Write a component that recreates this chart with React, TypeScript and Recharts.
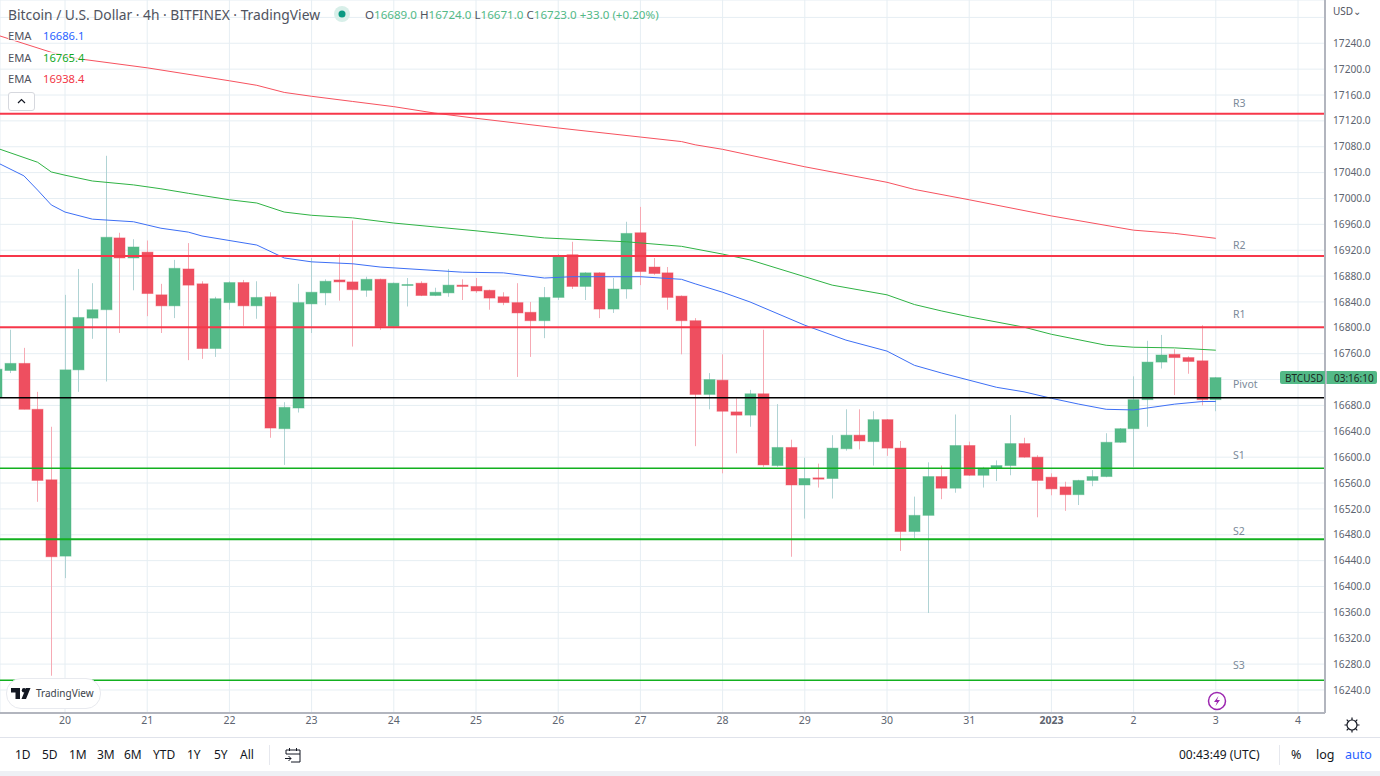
import { Bar, CartesianGrid, ComposedChart, Line, ReferenceLine, XAxis, YAxis } from "recharts";

const FONT = "'Noto Sans', sans-serif";
const UP = "#53b987";
const DOWN = "#ee4f60";

// first candle in the list sits five 4h bars before Dec 20 00:00
const firstIndex = -5;
const opens = [
  16693, 16734, 16745, 16674, 16565, 16447, 16735, 16815, 16828, 16939, 16908, 16917, 16851, 16834, 16891,
  16868, 16768, 16839, 16870, 16834, 16848, 16644, 16676, 16837, 16854, 16874, 16871, 16858, 16875, 16802,
  16866, 16869, 16850, 16854, 16866, 16864, 16858, 16848, 16839, 16824, 16811, 16847, 16913, 16864, 16885,
  16829, 16860, 16947, 16894, 16885, 16849, 16811, 16697, 16719, 16670, 16665, 16698, 16587, 16615, 16557,
  16568, 16567, 16613, 16634, 16624, 16658, 16614, 16485, 16510, 16570, 16552, 16618, 16572, 16583, 16587,
  16621, 16600, 16569, 16554, 16542, 16564, 16570, 16623, 16644, 16689, 16747, 16759, 16754, 16749, 16689,
];
const highs = [
  16763, 16797, 16769, 16701, 16647, 16851, 16891, 16869, 17066, 16947, 16937, 16935, 16868, 16905, 16931,
  16872, 16848, 16872, 16874, 16872, 16855, 16685, 16868, 16908, 16875, 16914, 16966, 16879, 16876, 16870,
  16877, 16872, 16862, 16891, 16875, 16877, 16859, 16855, 16869, 16840, 16863, 16914, 16933, 16886, 16886,
  16877, 16964, 16987, 16908, 16894, 16850, 16815, 16730, 16759, 16691, 16704, 16797, 16682, 16627, 16599,
  16590, 16634, 16674, 16674, 16671, 16659, 16625, 16539, 16592, 16587, 16666, 16624, 16585, 16595, 16665,
  16630, 16603, 16575, 16562, 16565, 16580, 16637, 16645, 16725, 16780, 16789, 16767, 16756, 16804, 16724,
];
const lows = [
  16688, 16730, 16674, 16531, 16262, 16413, 16701, 16783, 16717, 16792, 16858, 16818, 16792, 16815, 16750,
  16752, 16755, 16828, 16803, 16814, 16630, 16588, 16669, 16792, 16835, 16842, 16771, 16848, 16797, 16800,
  16833, 16849, 16849, 16848, 16843, 16854, 16828, 16835, 16724, 16755, 16784, 16843, 16860, 16843, 16815,
  16823, 16845, 16866, 16882, 16828, 16759, 16617, 16674, 16575, 16606, 16647, 16585, 16585, 16446, 16505,
  16553, 16536, 16610, 16612, 16587, 16602, 16455, 16475, 16359, 16535, 16545, 16571, 16553, 16563, 16572,
  16599, 16507, 16541, 16517, 16526, 16555, 16569, 16622, 16585, 16647, 16737, 16696, 16729, 16680, 16671,
];
const closes = [
  16736, 16745, 16674, 16564, 16446, 16735, 16816, 16828, 16940, 16908, 16925, 16853, 16834, 16892, 16866,
  16768, 16845, 16870, 16834, 16847, 16645, 16677, 16839, 16855, 16872, 16871, 16859, 16875, 16802, 16869,
  16867, 16850, 16855, 16866, 16864, 16857, 16846, 16839, 16823, 16811, 16847, 16911, 16864, 16885, 16829,
  16860, 16946, 16887, 16884, 16847, 16811, 16697, 16720, 16671, 16665, 16698, 16588, 16615, 16557, 16567,
  16566, 16614, 16634, 16625, 16658, 16614, 16485, 16510, 16570, 16552, 16618, 16572, 16583, 16587, 16621,
  16600, 16564, 16551, 16542, 16564, 16570, 16623, 16644, 16689, 16747, 16758, 16754, 16748, 16689, 16723,
];

// EMA readings as [bar index, price]
const emaBlue = [
  [-5, 17056], [-3, 17035], [-2, 17013], [-1, 16990], [0, 16979], [2, 16968], [5, 16964], [6, 16959], [7, 16954],
  [9, 16948], [10, 16942], [14, 16928], [16, 16908], [18, 16902], [21, 16899], [23, 16894], [29, 16886], [32, 16885],
  [35, 16877], [37, 16879], [42, 16879], [45, 16875], [46, 16868], [48, 16855], [50, 16840], [54, 16804], [57, 16781],
  [60, 16764], [62, 16742], [64, 16730], [68, 16708], [70, 16701], [72, 16691], [74, 16682], [76, 16674], [78, 16673],
  [79, 16676], [81, 16682], [83, 16686], [84, 16686.1],
];
const emaGreen = [
  [-5, 17078], [-2, 17056], [-1, 17041], [0, 17036], [2, 17027], [5, 17021], [7, 17015], [9, 17008], [12, 16998],
  [14, 16993], [16, 16979], [18, 16974], [21, 16970], [24, 16962], [27, 16956], [30, 16950], [35, 16939], [41, 16933],
  [45, 16926], [48, 16914], [50, 16905], [54, 16879], [56, 16866], [60, 16851], [62, 16836], [64, 16826], [66, 16817],
  [70, 16801], [72, 16790], [76, 16773], [78, 16770], [81, 16769], [84, 16765.4],
];
const emaRed = [
  [-5, 17253], [-1, 17226], [1, 17216], [6, 17202], [12, 17182], [14, 17175], [16, 17164], [18, 17158], [21, 17150],
  [24, 17142], [27, 17132], [30, 17124], [36, 17109], [42, 17095], [45, 17088], [46, 17083], [48, 17076], [50, 17067],
  [54, 17049], [60, 17025], [62, 17014], [66, 16998], [72, 16973], [78, 16951], [81, 16946], [84, 16938.4],
];

const levelNames = ["R3", "R2", "R1", "Pivot", "S1", "S2", "S3"];
const levelPrices = [17131, 16911, 16801, 16692, 16583, 16473, 16255];
const levelColors = ["#f7374a", "#f7374a", "#f7374a", "#000000", "#12b01f", "#12b01f", "#12b01f"];
const levelWidths = [2, 2, 2, 1.5, 1.5, 2, 1.5];
const levelLabelGaps = [7, 7, 9, 10, 9, 4, 11];

const dayTicks = [0, 6, 12, 18, 24, 30, 36, 42, 48, 54, 60, 66, 72, 78, 84, 90];
const dayLabels = ["20", "21", "22", "23", "24", "25", "26", "27", "28", "29", "30", "31", "2023", "2", "3", "4"];
const priceTicks = [
  16240, 16280, 16320, 16360, 16400, 16440, 16480, 16520, 16560, 16600, 16640, 16680, 16720, 16760, 16800, 16840,
  16880, 16920, 16960, 17000, 17040, 17080, 17120, 17160, 17200, 17240, 17280,
];
// these ticks only draw a grid line, the USD button and the price tag sit on their labels
const coveredTicks = [17280, 16720];

const rangeButtons = ["1D", "5D", "1M", "3M", "6M", "YTD", "1Y", "5Y", "All"];
const rangeButtonX = [15, 42, 69, 97, 124, 153, 187, 214, 240];

const pointsAt = (list: number[][], i: number) => {
  const hit = list.find((p) => p[0] === i);
  return hit ? hit[1] : null;
};

const table = opens.map((open, n) => {
  const i = firstIndex + n;
  return {
    i,
    open,
    high: highs[n],
    low: lows[n],
    close: closes[n],
    blue: pointsAt(emaBlue, i),
    green: pointsAt(emaGreen, i),
    red: pointsAt(emaRed, i),
  };
});

function Candle({ x, y, width, height, payload }: any) {
  const { open, high, low, close } = payload;
  const up = close >= open;
  const perUnit = height / (high - low);
  const cx = Math.round(x + width / 2);
  const top = y + (high - Math.max(open, close)) * perUnit;
  const bodyH = Math.max(Math.abs(close - open) * perUnit, 1);
  return (
    <g>
      <line x1={cx + 0.5} x2={cx + 0.5} y1={y} y2={y + height} stroke={up ? "#b0d3d4" : "#f6aab4"} strokeWidth={1} />
      <rect
        x={cx - 5}
        y={top}
        width={11}
        height={bodyH}
        fill={up ? UP : DOWN}
        stroke={up ? "rgba(83,185,135,0.45)" : "rgba(238,79,96,0.45)"}
        strokeWidth={1}
      />
    </g>
  );
}

function LevelLabel({ viewBox, name, gap }: any) {
  return (
    <text x={1233} y={viewBox.y - gap} fontSize={10.5} fontFamily={FONT} fill="#7b8a99">
      {name}
    </text>
  );
}

function AxisDay({ x, y, payload }: any) {
  const label = dayLabels[dayTicks.indexOf(payload.value)];
  return (
    <text
      x={x}
      y={y + 3}
      textAnchor="middle"
      fontSize={10.5}
      fontFamily={FONT}
      fontWeight={label === "2023" ? 700 : 400}
      fill="#5d6470"
    >
      {label}
    </text>
  );
}

const abs = (left: number, top: number, extra: any = {}) => ({
  position: "absolute" as const,
  left,
  top,
  whiteSpace: "nowrap" as const,
  fontFamily: FONT,
  lineHeight: 1,
  ...extra,
});

export default function App() {
  return (
    <div style={{ position: "fixed", left: 0, top: 0, width: 1380, height: 776, background: "#fff", overflow: "hidden" }}>
      <ComposedChart width={1380} height={737} data={table} margin={{ top: 0, right: 0, bottom: 0, left: 0 }}>
        <CartesianGrid stroke="#e6eef3" strokeWidth={1} />
        <XAxis
          type="number"
          dataKey="i"
          domain={[-4.745, 91.97]}
          allowDataOverflow
          ticks={dayTicks}
          height={24}
          interval={0}
          tick={<AxisDay />}
          tickLine={false}
          axisLine={{ stroke: "#b2b5be", strokeWidth: 2 }}
        />
        <YAxis
          orientation="right"
          type="number"
          domain={[16204.4, 17306.9]}
          allowDataOverflow
          ticks={priceTicks}
          interval={0}
          width={55}
          tickFormatter={(v: number) => (coveredTicks.includes(v) ? "" : v.toFixed(1))}
          tick={{ fontSize: 10.2, fontFamily: FONT, fill: "#5d6470" }}
          tickLine={false}
          axisLine={{ stroke: "#b2b5be", strokeWidth: 2 }}
        />
        <Line dataKey="red" stroke="#f7525f" strokeWidth={1} dot={false} connectNulls isAnimationActive={false} />
        <Line dataKey="green" stroke="#2fb344" strokeWidth={1} dot={false} connectNulls isAnimationActive={false} />
        <Line dataKey="blue" stroke="#3d6ff5" strokeWidth={1} dot={false} connectNulls isAnimationActive={false} />
        <Bar dataKey={(d: any) => [d.low, d.high]} barSize={11} shape={<Candle />} isAnimationActive={false} />
        {levelNames.map((name, n) => (
          <ReferenceLine
            key={name}
            y={levelPrices[n]}
            stroke={levelColors[n]}
            strokeWidth={levelWidths[n]}
            label={<LevelLabel name={name} gap={levelLabelGaps[n]} />}
          />
        ))}
      </ComposedChart>

      {/* header */}
      <div style={abs(8, 8, { fontSize: 13.8, color: "#50535e" })}>Bitcoin / U.S. Dollar · 4h · BITFINEX · TradingView</div>
      <svg style={abs(333, 5)} width={18} height={18}>
        <circle cx={9} cy={9} r={8} fill="#d8efe9" />
        <circle cx={9} cy={9} r={3.5} fill="#089981" />
      </svg>
      <div style={abs(365, 9, { fontSize: 11.6, color: UP })}>
        <span style={{ color: "#50535e" }}>O</span>16689.0 <span style={{ color: "#50535e" }}>H</span>16724.0{" "}
        <span style={{ color: "#50535e" }}>L</span>16671.0 <span style={{ color: "#50535e" }}>C</span>16723.0 +33.0 (+0.20%)
      </div>

      {/* legend */}
      {[
        ["16686.1", "#2962ff", 30],
        ["16765.4", "#12a81f", 52],
        ["16938.4", "#f23645", 73],
      ].map(([value, color, top]: any) => (
        <div key={value} style={abs(8, top, { fontSize: 11.2, color: "#50535e", background: "rgba(255,255,255,0.7)", width: 76 })}>
          EMA
          <span style={{ position: "absolute", left: 35, color }}>{value}</span>
        </div>
      ))}
      <div style={abs(8, 92, { width: 25, height: 17, border: "1px solid #d6d8de", borderRadius: 3, background: "#fff" })}>
        <svg width={25} height={17} style={{ display: "block" }}>
          <path d="M9 10 L12.5 6.5 L16 10" fill="none" stroke="#131722" strokeWidth={1.2} />
        </svg>
      </div>

      {/* price scale bits */}
      <div style={abs(1327, 0, { width: 53, height: 24, background: "#fff" })} />
      <div style={abs(1333, 6, { fontSize: 10, color: "#50535e" })}>USD⌄</div>
      <div style={abs(1280, 371, { width: 97, height: 13, background: UP, borderRadius: 2 })} />
      <div style={abs(1285, 372.5, { fontSize: 10, color: "#1b2a22" })}>BTCUSD</div>
      <div style={abs(1334, 372.5, { fontSize: 10, color: "#1b2a22" })}>03:16:10</div>
      <div style={abs(1325, 371, { width: 2, height: 13, background: "#b2b5be" })} />

      {/* lightning marker */}
      <svg style={abs(1207, 691)} width={20} height={20}>
        <circle cx={10} cy={10} r={8.5} fill="#fff" stroke="#9c27b0" strokeWidth={1.5} />
        <path d="M11.5 5 L7 11 H10 L8.5 15 L13 9 H10 Z" fill="#9c27b0" />
      </svg>

      {/* TradingView badge */}
      <div style={abs(6, 678, { width: 93, height: 29, borderRadius: 15, background: "#fff", border: "1px solid #e8eaef" })} />
      <svg style={abs(11, 688)} width={22} height={12}>
        <path d="M0 0 H9 V11 H4.5 V4.5 H0 Z M19.5 0 H15 L10.5 11 H15 Z" fill="#131722" />
        <circle cx={13} cy={2.3} r={2.2} fill="#131722" />
      </svg>
      <div style={abs(36, 688, { fontSize: 10, color: "#3b3f4a" })}>TradingView</div>

      {/* gear */}
      <svg style={abs(1343, 716)} width={18} height={18}>
        <circle cx={9} cy={9} r={5} fill="none" stroke="#131722" strokeWidth={1.2} />
        <path d="M9 1.5 V4 M9 14 V16.5 M1.5 9 H4 M14 9 H16.5 M3.7 3.7 L5.4 5.4 M12.6 12.6 L14.3 14.3 M3.7 14.3 L5.4 12.6 M12.6 5.4 L14.3 3.7" stroke="#131722" strokeWidth={1.2} />
      </svg>

      {/* bottom toolbar */}
      <div style={abs(0, 737, { width: 1380, height: 34, background: "#fff", borderTop: "1px solid #e0e3eb", boxSizing: "border-box" })} />
      <div style={abs(0, 771, { width: 1380, height: 5, background: "#eef0f5" })} />
      {rangeButtons.map((b, n) => (
        <div key={b} style={abs(rangeButtonX[n], 749, { fontSize: 12, color: "#131722" })}>
          {b}
        </div>
      ))}
      <div style={abs(269, 745, { width: 1, height: 20, background: "#e6e8ee" })} />
      <svg style={abs(284, 747)} width={18} height={16}>
        <path d="M2 7 V3 H16 V15 H7 M2 7 H16 M5.5 1 V4 M12.5 1 V4" fill="none" stroke="#131722" strokeWidth={1} />
        <path d="M1 11.5 H7 M4.5 9 L7 11.5 L4.5 14" fill="none" stroke="#131722" strokeWidth={1} />
      </svg>
      <div style={abs(1179, 749, { fontSize: 12, color: "#131722" })}>00:43:49 (UTC)</div>
      <div style={abs(1279, 745, { width: 1, height: 20, background: "#e6e8ee" })} />
      <div style={abs(1291, 749, { fontSize: 12.5, color: "#131722" })}>%</div>
      <div style={abs(1316, 749, { fontSize: 12.5, color: "#131722" })}>log</div>
      <div style={abs(1345, 749, { fontSize: 12.5, color: "#2962ff" })}>auto</div>
    </div>
  );
}
